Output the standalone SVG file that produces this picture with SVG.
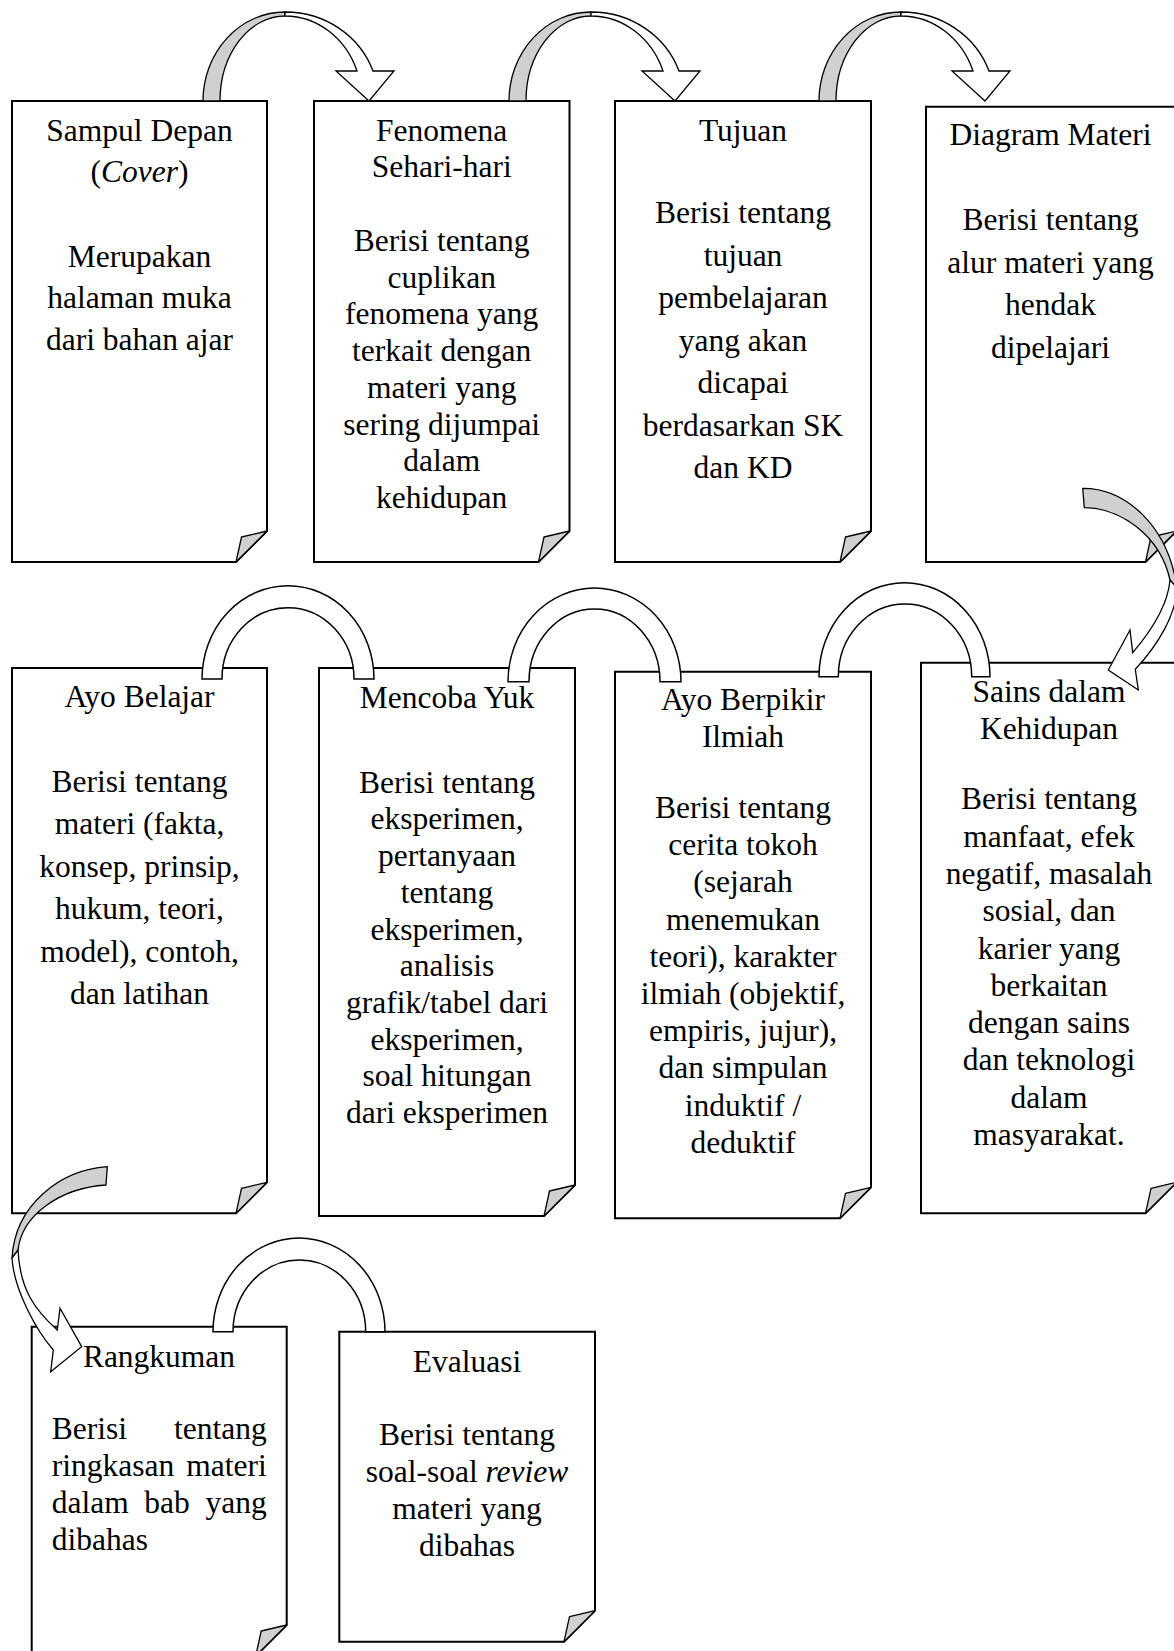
<svg xmlns="http://www.w3.org/2000/svg" width="1174" height="1651" viewBox="0 0 1174 1651">
<style>
.box{fill:#fff;stroke:#000;stroke-width:2;stroke-linejoin:miter}
.fold{fill:#d0d0d0;stroke:#000;stroke-width:1.3;stroke-linejoin:round}
.t{font-family:"Liberation Serif","Times New Roman",serif;font-size:31.5px;fill:#000;text-anchor:middle}
.l{text-anchor:start}
.r{text-anchor:end}
.back{fill:#d0d0d0;stroke:#000;stroke-width:1.3;stroke-linejoin:round}
.front{fill:#fff;stroke:#000;stroke-width:1.3;stroke-linejoin:miter}
.arc{fill:#fff;stroke:#000;stroke-width:1.5}
</style>
<rect width="1174" height="1651" fill="#fff"/>

<g id="n1">
<path class="box" d="M12 101 H267 V531 L236 562 H12 Z"/>
<path class="fold" d="M236 562 L241.5 537 L267 531 Z"/>
<text class="t" x="139.5" y="140.7">Sampul Depan</text>
<text class="t" x="139.5" y="181.5">(<tspan font-style="italic">Cover</tspan>)</text>
<text class="t" x="139.5" y="266.5">Merupakan</text>
<text class="t" x="139.5" y="308">halaman muka</text>
<text class="t" x="139.5" y="349.5">dari bahan ajar</text>
</g>

<g id="n2">
<path class="box" d="M314 101 H569.5 V531 L538.5 562 H314 Z"/>
<path class="fold" d="M538.5 562 L544 537 L569.5 531 Z"/>
<text class="t" x="441.7" y="140.7">Fenomena</text>
<text class="t" x="441.7" y="177.3">Sehari-hari</text>
<text class="t" x="441.7" y="251">Berisi tentang</text>
<text class="t" x="441.7" y="287.7">cuplikan</text>
<text class="t" x="441.7" y="324.4">fenomena yang</text>
<text class="t" x="441.7" y="361.1">terkait dengan</text>
<text class="t" x="441.7" y="397.8">materi yang</text>
<text class="t" x="441.7" y="434.5">sering dijumpai</text>
<text class="t" x="441.7" y="471.2">dalam</text>
<text class="t" x="441.7" y="507.9">kehidupan</text>
</g>

<g id="n3">
<path class="box" d="M615 101 H871 V531 L840 562 H615 Z"/>
<path class="fold" d="M840 562 L845.5 537 L871 531 Z"/>
<text class="t" x="743" y="140.7">Tujuan</text>
<text class="t" x="743" y="223">Berisi tentang</text>
<text class="t" x="743" y="265.5">tujuan</text>
<text class="t" x="743" y="308">pembelajaran</text>
<text class="t" x="743" y="350.5">yang akan</text>
<text class="t" x="743" y="393">dicapai</text>
<text class="t" x="743" y="435.5">berdasarkan SK</text>
<text class="t" x="743" y="478">dan KD</text>
</g>

<g id="n4">
<path class="box" d="M926 106.7 H1176.5 V531 L1145.5 562 H926 Z"/>
<path class="fold" d="M1145.5 562 L1151 537 L1176.5 531 Z"/>
<text class="t" x="1050.5" y="145">Diagram Materi</text>
<text class="t" x="1050.5" y="230.3">Berisi tentang</text>
<text class="t" x="1050.5" y="272.8">alur materi yang</text>
<text class="t" x="1050.5" y="315.3">hendak</text>
<text class="t" x="1050.5" y="357.8">dipelajari</text>
</g>

<g id="n5">
<path class="box" d="M12 668 H267 V1182.3 L236 1213.3 H12 Z"/>
<path class="fold" d="M236 1213.3 L241.5 1188.3 L267 1182.3 Z"/>
<text class="t" x="139.5" y="707">Ayo Belajar</text>
<text class="t" x="139.5" y="792">Berisi tentang</text>
<text class="t" x="139.5" y="834.4">materi (fakta,</text>
<text class="t" x="139.5" y="876.8">konsep, prinsip,</text>
<text class="t" x="139.5" y="919.2">hukum, teori,</text>
<text class="t" x="139.5" y="961.6">model), contoh,</text>
<text class="t" x="139.5" y="1004">dan latihan</text>
</g>

<g id="n6">
<path class="box" d="M319 668 H575 V1185 L544 1216 H319 Z"/>
<path class="fold" d="M544 1216 L549.5 1191 L575 1185 Z"/>
<text class="t" x="447" y="708">Mencoba Yuk</text>
<text class="t" x="447" y="792.7">Berisi tentang</text>
<text class="t" x="447" y="829.4">eksperimen,</text>
<text class="t" x="447" y="866.1">pertanyaan</text>
<text class="t" x="447" y="902.8">tentang</text>
<text class="t" x="447" y="939.5">eksperimen,</text>
<text class="t" x="447" y="976.2">analisis</text>
<text class="t" x="447" y="1012.9">grafik/tabel dari</text>
<text class="t" x="447" y="1049.6">eksperimen,</text>
<text class="t" x="447" y="1086.3">soal hitungan</text>
<text class="t" x="447" y="1123">dari eksperimen</text>
</g>

<g id="n7">
<path class="box" d="M615 671.7 H871 V1187.3 L840 1218.3 H615 Z"/>
<path class="fold" d="M840 1218.3 L845.5 1193.3 L871 1187.3 Z"/>
<text class="t" x="743" y="709.5">Ayo Berpikir</text>
<text class="t" x="743" y="746.5">Ilmiah</text>
<text class="t" x="743" y="818">Berisi tentang</text>
<text class="t" x="743" y="855.2">cerita tokoh</text>
<text class="t" x="743" y="892.4">(sejarah</text>
<text class="t" x="743" y="929.6">menemukan</text>
<text class="t" x="743" y="966.8">teori), karakter</text>
<text class="t" x="743" y="1004">ilmiah (objektif,</text>
<text class="t" x="743" y="1041.2">empiris, jujur),</text>
<text class="t" x="743" y="1078.4">dan simpulan</text>
<text class="t" x="743" y="1115.6">induktif /</text>
<text class="t" x="743" y="1152.8">deduktif</text>
</g>

<g id="n8">
<path class="box" d="M921 662.7 H1176.5 V1182.3 L1145.5 1213.3 H921 Z"/>
<path class="fold" d="M1145.5 1213.3 L1151 1188.3 L1176.5 1182.3 Z"/>
<text class="t" x="1049" y="701.7">Sains dalam</text>
<text class="t" x="1049" y="739.3">Kehidupan</text>
<text class="t" x="1049" y="809.3">Berisi tentang</text>
<text class="t" x="1049" y="846.6">manfaat, efek</text>
<text class="t" x="1049" y="883.9">negatif, masalah</text>
<text class="t" x="1049" y="921.2">sosial, dan</text>
<text class="t" x="1049" y="958.5">karier yang</text>
<text class="t" x="1049" y="995.8">berkaitan</text>
<text class="t" x="1049" y="1033.1">dengan sains</text>
<text class="t" x="1049" y="1070.4">dan teknologi</text>
<text class="t" x="1049" y="1107.7">dalam</text>
<text class="t" x="1049" y="1145">masyarakat.</text>
</g>

<g id="n9">
<path class="box" d="M31.7 1326.7 H286.7 V1625 L255.7 1656 H31.7 Z"/>
<path class="fold" d="M255.7 1656 L261.2 1631 L286.7 1625 Z"/>
<text class="t" x="159" y="1366.7">Rangkuman</text>
<text class="t l" x="51.7" y="1439.3">Berisi</text>
<text class="t r" x="266.7" y="1439.3">tentang</text>
<text class="t l" x="51.7" y="1476.2">ringkasan</text>
<text class="t r" x="266.7" y="1476.2">materi</text>
<text class="t l" x="51.7" y="1513.1">dalam</text>
<text class="t" x="167" y="1513.1">bab</text>
<text class="t r" x="266.7" y="1513.1">yang</text>
<text class="t l" x="51.7" y="1550">dibahas</text>
</g>

<g id="n10">
<path class="box" d="M339.3 1331.7 H595 V1610.7 L564 1641.7 H339.3 Z"/>
<path class="fold" d="M564 1641.7 L569.5 1616.7 L595 1610.7 Z"/>
<text class="t" x="467" y="1372">Evaluasi</text>
<text class="t" x="467" y="1444.7">Berisi tentang</text>
<text class="t" x="467" y="1481.7">soal-soal <tspan font-style="italic">review</tspan></text>
<text class="t" x="467" y="1518.7">materi yang</text>
<text class="t" x="467" y="1555.7">dibahas</text>
</g>

<g id="connectors">
<g id="c1">
<path class="back" d="M203 101 A82 89 0 0 1 285 12 L285 16 A65 85 0 0 0 220 101 Z"/>
<path class="front" d="M285 12 A93 89 0 0 1 373 71 L394 71 L369 101 L336 71 L357 71 A77 85 0 0 0 285 16 Z"/>
</g>
<g id="c2" transform="translate(306 0)">
<path class="back" d="M203 101 A82 89 0 0 1 285 12 L285 16 A65 85 0 0 0 220 101 Z"/>
<path class="front" d="M285 12 A93 89 0 0 1 373 71 L394 71 L369 101 L336 71 L357 71 A77 85 0 0 0 285 16 Z"/>
</g>
<g id="c3" transform="translate(616 0)">
<path class="back" d="M203 101 A82 89 0 0 1 285 12 L285 16 A65 85 0 0 0 220 101 Z"/>
<path class="front" d="M285 12 A93 89 0 0 1 373 71 L394 71 L369 101 L336 71 L357 71 A77 85 0 0 0 285 16 Z"/>
</g>
<g id="c4">
<path class="back" d="M1082.7 488.3 C1125 488 1168 525 1177 588 L1170 580 C1160 535 1120 508 1084.3 507.7 Z"/>
<path class="front" d="M1177 588 C1176 615 1158 645 1135.3 669.3 L1138.3 690 L1108.3 670 L1130 630 L1132.7 652.7 C1152 630 1168 605 1170 580 Z"/>
</g>
<path id="c5" class="arc" d="M202 679 A86 93.3 0 0 1 374 679 L354 679 A66 71.3 0 0 0 222 679 Z"/>
<path id="c6" class="arc" d="M508 681.7 A86.5 93.7 0 0 1 681 681.7 L660 681.7 A65.5 72.7 0 0 0 529 681.7 Z"/>
<path id="c7" class="arc" d="M819 676.7 A85.5 94 0 0 1 990 676.7 L971.7 676.7 A66.7 72.7 0 0 0 838.3 676.7 Z"/>
<g id="c8">
<path class="back" d="M107.3 1166.7 C60 1170 15 1205 12 1258 L18 1250 C22 1215 60 1188 106 1185 Z"/>
<path class="front" d="M12 1258 C14 1290 36 1330 53.3 1350 L50.7 1371.7 L81.7 1346.7 L60 1308.3 L57.3 1330 C35 1310 20 1290 18 1250 Z"/>
</g>
<path id="c9" class="arc" d="M213 1331.7 A86 93.7 0 0 1 385 1331.7 L365.7 1331.7 A66.3 71.7 0 0 0 233 1331.7 Z"/>
</g>
</svg>
